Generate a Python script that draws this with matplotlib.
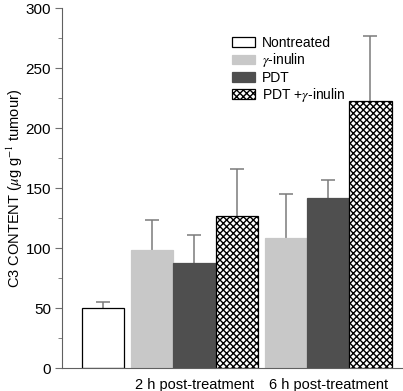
import matplotlib
matplotlib.use("Agg")
import matplotlib.pyplot as plt
import numpy as np

plt.rcParams["font.family"] = ["Liberation Sans", "DejaVu Sans"]
plt.rcParams["mathtext.fontset"] = "stix"
plt.rcParams["hatch.linewidth"] = 1.0

treatments = ["Nontreated", r"$\gamma$-inulin", "PDT", r"PDT +$\gamma$-inulin"]
groups = ["2 h post-treatment", "6 h post-treatment"]

# bar order: 2 h (Nontreated, gamma, PDT, PDT+gamma), 6 h (gamma, PDT, PDT+gamma)
bar_treatment = [0, 1, 2, 3, 1, 2, 3]
bar_means = [50, 99, 88, 127, 109, 142, 223]
bar_errs = [5, 25, 23, 39, 36, 15, 54]

colors = ["white", "#c8c8c8", "#4f4f4f", "white"]
edges = ["black", "#c8c8c8", "#4f4f4f", "black"]
hatches = [None, None, None, "xxxxx"]

positions = np.array([0, 1.16, 2.16, 3.16, 4.32, 5.32, 6.32])
width = 1.0

fig = plt.figure(figsize=(4.03, 3.91), dpi=100)
ax = fig.add_axes([62.3 / 403, (391 - 368.3) / 391, (403 - 62.3) / 403, 360 / 391])

for x, m, e, t in zip(positions, bar_means, bar_errs, bar_treatment):
    ax.bar(x, m, width=width, color=colors[t], edgecolor=edges[t], linewidth=0.9,
           hatch=hatches[t], zorder=2)
    eb = ax.errorbar(x, m, yerr=[[0], [e]], fmt="none", ecolor="#7a7a7a", elinewidth=1.1,
                     capsize=4.7, capthick=1.1, zorder=1)
    # only the upper whisker has a cap
    eb[1][0].set_visible(False)

ax.set_xlim(-0.96, 7.09)
ax.set_ylim(0, 300)
ax.set_yticks(np.arange(0, 301, 50))
ax.set_yticks(np.arange(25, 300, 50), minor=True)
ax.tick_params(axis="y", which="major", length=5, color="#707070", labelsize=11, pad=3)
ax.tick_params(axis="y", which="minor", length=3, color="#707070")
ax.set_xticks([positions[1:4].mean(), positions[4:7].mean()])
ax.set_xticklabels(groups, fontsize=10.5)
ax.tick_params(axis="x", length=0, pad=7)

for s in ["top", "right"]:
    ax.spines[s].set_visible(False)
ax.spines["left"].set_color("#606060")
ax.spines["bottom"].set_color("#606060")

ax.set_ylabel(r"C3 CONTENT ($\mu$g g$^{-1}$ tumour)", fontsize=10.5)
ax.yaxis.set_label_coords(-0.11, 0.5)

handles = [plt.Rectangle((0, 0), 1, 1, facecolor=colors[k], edgecolor=edges[k],
                         linewidth=0.9, hatch=hatches[k]) for k in range(4)]
fig.legend(handles, treatments, loc="upper left", bbox_to_anchor=(232 / 403, 1 - 36 / 391),
           frameon=False, fontsize=10, handlelength=1.65, handleheight=0.7,
           handletextpad=0.5, labelspacing=0.1, borderpad=0, borderaxespad=0)

fig.savefig("out.png", dpi=100)
